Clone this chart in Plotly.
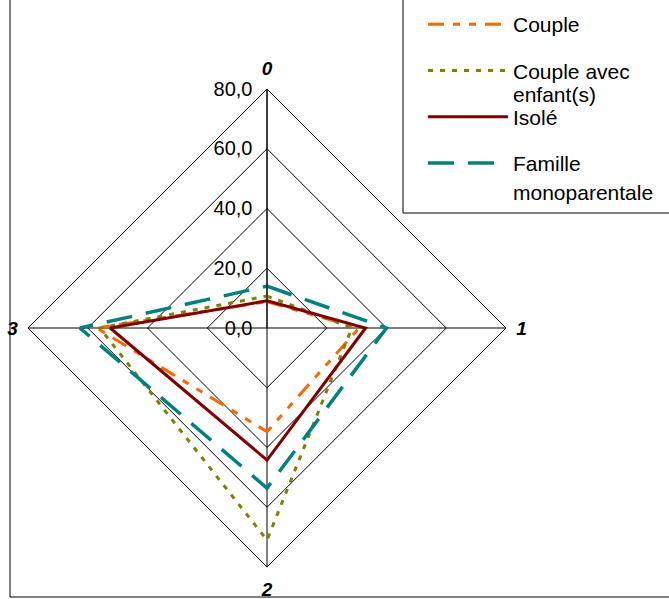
import plotly.graph_objects as go

categories = ["0", "1", "2", "3"]
series_names = ["Couple", "Couple avec enfant(s)", "Isolé", "Famille monoparentale"]
legend_first_lines = ["Couple", "Couple avec", "Isolé", "Famille"]
legend_second_lines = ["", "enfant(s)", "", "monoparentale"]
couple = [8.8, 30.8, 34.7, 57.0]
couple_enfants = [10.7, 28.4, 71.0, 56.0]
isole = [9.1, 33.0, 44.2, 52.5]
monoparentale = [14.0, 40.0, 53.6, 62.6]
radial_ticks = [0, 20, 40, 60, 80]

series = [couple, couple_enfants, isole, monoparentale]
colors = ["#FF6600", "#808000", "#800000", "#008080"]
dashes = ["16px,9px,7px,9px,7px,9px", "5px,7px", "solid", "26px,14px"]
widths = [3, 3, 3, 3.5]

W, H = 669, 599
FONT = "Liberation Sans, Arial, sans-serif"
LEG_FS = 21

fig = go.Figure()
for i, (name, vals, c, d, w) in enumerate(zip(legend_first_lines, series, colors, dashes, widths)):
    fig.add_trace(go.Scatterpolar(
        r=vals + [vals[0]],
        theta=categories + [categories[0]],
        mode="lines",
        name=name,
        legendgroup="g%d" % i,
        hovertext=series_names[i],
        line=dict(color=c, dash=d, width=w),
    ))

annotations = []
second_line_y = [None, 94, None, 192]
for line2, yy in zip(legend_second_lines, second_line_y):
    if line2:
        annotations.append(dict(
            text=line2, xref="paper", yref="paper",
            x=511 / W, y=1 - yy / H, xanchor="left", yanchor="middle",
            showarrow=False, font=dict(size=LEG_FS, color="black", family=FONT),
        ))

fig.update_layout(
    width=W, height=H,
    margin=dict(l=0, r=0, t=0, b=0),
    paper_bgcolor="white",
    plot_bgcolor="white",
    separators=", ",
    font=dict(family=FONT, size=19, color="black"),
    polar=dict(
        domain=dict(x=[28 / W, 506 / W], y=[1 - 567 / H, 1 - 89 / H]),
        gridshape="linear",
        bgcolor="white",
        radialaxis=dict(
            range=[0, 80], tickvals=radial_ticks, tickformat=".1f",
            angle=90, tickangle=90, side="counterclockwise",
            showline=True, linecolor="black", linewidth=1,
            gridcolor="black", gridwidth=1,
            ticks="outside", ticklen=7, tickcolor="rgba(0,0,0,0)",
            tickfont=dict(size=20, color="black"),
        ),
        angularaxis=dict(
            categoryorder="array", categoryarray=categories,
            rotation=90, direction="clockwise",
            showline=True, linecolor="black", linewidth=1,
            gridcolor="black", gridwidth=1,
            ticks="outside", ticklen=6, tickcolor="rgba(0,0,0,0)",
            tickfont=dict(size=19, color="black", weight="bold", style="italic"),
        ),
    ),
    legend=dict(
        x=423 / W, y=1 - 4 / H, xanchor="left", yanchor="top",
        borderwidth=0, bgcolor="rgba(0,0,0,0)",
        valign="middle", itemwidth=80, tracegroupgap=16,
        traceorder="grouped",
        font=dict(size=LEG_FS, color="black"),
    ),
    annotations=annotations,
    shapes=[
        dict(type="rect", xref="paper", yref="paper",
             x0=10 / W, x1=1.2, y0=(H - 597) / H, y1=1.2,
             line=dict(color="black", width=1), layer="below"),
        dict(type="rect", xref="paper", yref="paper",
             x0=403 / W, x1=1.2, y0=1 - 213 / H, y1=1.2,
             line=dict(color="black", width=1), fillcolor="white", layer="below"),
    ],
)

fig.write_html(
    "out.html",
    config={"displayModeBar": False},
    post_script="document.body.style.margin='0';document.body.style.overflow='hidden';",
)
